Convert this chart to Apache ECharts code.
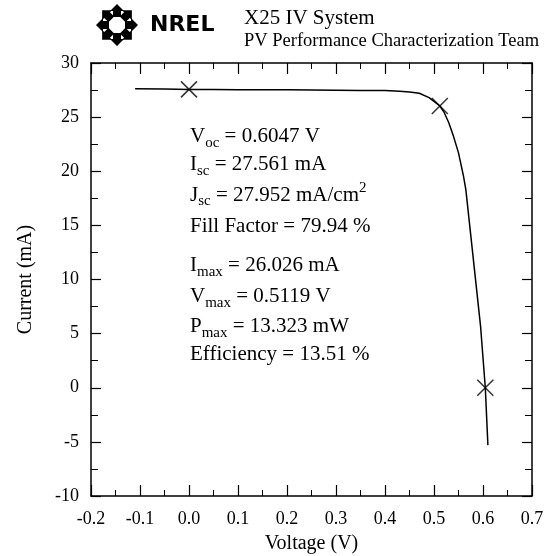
<!DOCTYPE html>
<html><head><meta charset="utf-8">
<script src="https://cdn.jsdelivr.net/npm/echarts@6/dist/echarts.min.js"></script>
<style>html,body{margin:0;padding:0;background:#fff}#c{width:551px;height:556px}</style>
</head><body><div id="c"></div>
<script>
// ---- data ----
const voltage = [-0.11, -0.05, 0.0, 0.05, 0.1, 0.15, 0.2, 0.25, 0.3, 0.35, 0.4, 0.43, 0.45, 0.47, 0.49, 0.50, 0.5119, 0.52, 0.53, 0.54, 0.55, 0.56, 0.565, 0.575, 0.585, 0.595, 0.6047, 0.61];
const current = [27.62, 27.60, 27.56, 27.55, 27.54, 27.53, 27.52, 27.51, 27.49, 27.47, 27.45, 27.40, 27.33, 27.20, 26.80, 26.45, 26.03, 25.5, 24.5, 23.2, 21.7, 19.6, 18.3, 14.1, 9.9, 5.7, 0.0, -5.3];
const markerV = [0.0, 0.5119, 0.6047];
const markerI = [27.561, 26.026, 0.0];
const titleLines = ['X25 IV System', 'PV Performance Characterization Team'];
const xName = 'Voltage (V)';
const yName = 'Current (mA)';
const statLines = [
  ['V', 'oc', ' = 0.6047 V'],
  ['I', 'sc', ' = 27.561 mA'],
  ['J', 'sc', ' = 27.952 mA/cm', '2'],
  ['Fill Factor = 79.94 %'],
  ['I', 'max', ' = 26.026 mA'],
  ['V', 'max', ' = 0.5119 V'],
  ['P', 'max', ' = 13.323 mW'],
  ['Efficiency = 13.51 %']
];
const statY = [140, 168, 195, 230, 269, 300, 330, 358];

const FONT = 'Liberation Serif';
const chart = echarts.init(document.getElementById('c'), null, {renderer: 'canvas'});

function statText(parts) {
  if (parts.length === 1) return '{m|' + parts[0] + '}';
  let s = '{m|' + parts[0] + '}{s|' + parts[1] + '}{m|' + parts[2] + '}';
  if (parts[3]) s += '{p|' + parts[3] + '}';
  return s;
}
const graphics = [];
statLines.forEach((p, i) => {
  graphics.push({
    type: 'text', left: 190, top: statY[i] - 14,
    style: {
      text: statText(p),
      rich: {
        m: {fontFamily: FONT, fontSize: 21, lineHeight: 28, fill: '#000', verticalAlign: 'middle'},
        s: {fontFamily: FONT, fontSize: 15, lineHeight: 14, fill: '#000', verticalAlign: 'bottom'},
        p: {fontFamily: FONT, fontSize: 15, lineHeight: 14, fill: '#000', verticalAlign: 'top'}
      }
    }
  });
});
graphics.push({type: 'text', left: 244, top: 8, style: {text: titleLines[0], fontFamily: FONT, fontSize: 21, fill: '#000'}});
graphics.push({type: 'text', left: 244, top: 32, style: {text: titleLines[1], fontFamily: FONT, fontSize: 18.5, fill: '#000'}});
graphics.push({type: 'text', left: 150, top: 14, style: {text: 'NREL', fontFamily: 'DejaVu Sans', fontWeight: 'bold', fontSize: 22, fill: '#000'}});
// logo ring of arrows
const arrowPts = [[-4, -8], [-4, -14], [-7, -14], [0, -21], [7, -14], [4, -14], [4, -8]];
const ringChildren = [];
for (let k = 0; k < 8; k++) {
  ringChildren.push({type: 'polygon', x: 0, y: 0, rotation: -k * Math.PI / 4,
    shape: {points: arrowPts}, style: {fill: '#000'}});
}
graphics.push({type: 'group', x: 117, y: 25, children: ringChildren});

const axisCommon = {
  type: 'value',
  axisLine: {show: true, onZero: false, lineStyle: {color: '#000', width: 1.5}},
  splitLine: {show: false},
  minorTick: {show: true, splitNumber: 2, length: 6, lineStyle: {color: '#000', width: 1}},
  axisTick: {show: true, inside: true, length: 11, lineStyle: {color: '#000', width: 1.2}}
};

const option = {
  backgroundColor: '#fff',
  animation: false,
  grid: {left: 91, right: 19, top: 63, bottom: 60, outerBoundsMode: 'none', containLabel: false},
  xAxis: [
    Object.assign({}, axisCommon, {
      min: -0.2, max: 0.7, interval: 0.1, position: 'bottom',
      name: xName, nameLocation: 'middle', nameGap: 38,
      nameTextStyle: {fontFamily: FONT, fontSize: 20, color: '#000'},
      axisLabel: {fontFamily: FONT, fontSize: 18, color: '#000', margin: 14,
        formatter: v => (Math.abs(v) < 1e-9 ? 0 : v).toFixed(1)}
    }),
    Object.assign({}, axisCommon, {
      min: -0.2, max: 0.7, interval: 0.1, position: 'top', axisLabel: {show: false}
    })
  ],
  yAxis: [
    Object.assign({}, axisCommon, {
      min: -10, max: 30, interval: 5, position: 'left',
      axisTick: {show: true, inside: true, length: 10, lineStyle: {color: '#000', width: 1.2}},
      minorTick: {show: true, splitNumber: 2, length: 7, lineStyle: {color: '#000', width: 1}},
      name: yName, nameLocation: 'middle', nameGap: 55,
      nameTextStyle: {fontFamily: FONT, fontSize: 20, color: '#000'},
      axisLabel: {fontFamily: FONT, fontSize: 18, color: '#000', margin: 12}
    }),
    Object.assign({}, axisCommon, {
      min: -10, max: 30, interval: 5, position: 'right',
      axisTick: {show: true, inside: true, length: 10, lineStyle: {color: '#000', width: 1.2}},
      minorTick: {show: true, splitNumber: 2, length: 7, lineStyle: {color: '#000', width: 1}},
      axisLabel: {show: false}
    })
  ],
  series: [
    {type: 'line', xAxisIndex: 0, yAxisIndex: 0, showSymbol: false, symbol: 'none',
      lineStyle: {color: '#000', width: 1.5}, data: voltage.map((v, i) => [v, current[i]])},
    {type: 'scatter', xAxisIndex: 0, yAxisIndex: 0, symbol: 'path://M0,0L10,10M10,0L0,10', symbolSize: 16,
      itemStyle: {color: 'none', borderColor: '#000', borderWidth: 1.5},
      data: markerV.map((v, i) => [v, markerI[i]])}
  ],
  graphic: graphics
};
chart.setOption(option);
</script></body></html>
